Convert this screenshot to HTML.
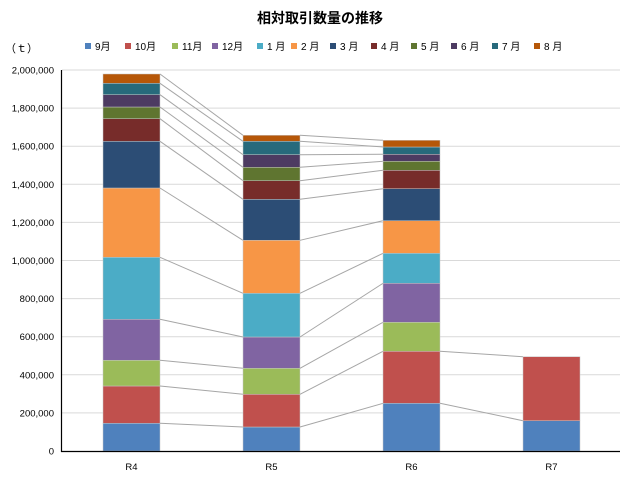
<!DOCTYPE html>
<html><head><meta charset="utf-8"><style>
html,body{margin:0;padding:0;background:#fff;}
svg{display:block;font-family:"Liberation Sans","Noto Sans CJK JP",sans-serif;}
</style></head><body>
<svg id="c" width="643" height="482" xmlns="http://www.w3.org/2000/svg">
<rect width="643" height="482" fill="#fff"/>
<text x="320" y="23" text-anchor="middle" font-size="14" font-weight="bold" fill="#000">相対取引数量の推移</text>
<text x="5" y="52" font-size="11" fill="#000">（ｔ）</text>
</svg>
<script>
var s=document.getElementById('c'),NS='http://www.w3.org/2000/svg';
function el(t,a,txt){var e=document.createElementNS(NS,t);for(var k in a)e.setAttribute(k,a[k]);if(txt!=null)e.textContent=txt;s.appendChild(e);return e;}
var cols=['#4f81bd','#c0504d','#9bbb59','#8064a2','#4bacc6','#f79646','#2c4d75','#772c2a','#5f7530','#4d3b62','#276a7c','#b65708'];
var names=['9月','10月','11月','12月','1月','2月','3月','4月','5月','6月','7月','8月'];
var lx=[85,125,172,212,257,291,330,371,411,451,492,534];
for(var i=0;i<12;i++){el('rect',{x:lx[i],y:43,width:6,height:6,fill:cols[i]});el('text',{x:lx[i]+10,y:50,'font-size':10,fill:'#000'},names[i].length==2&&i>3?names[i][0]+' '+names[i][1]:names[i]);}
// grid
for(var g=0;g<=10;g++){var y=451-g*38.1;if(g>0)el('line',{x1:62,x2:620,y1:y,y2:y,stroke:'#d9d9d9','stroke-width':1});
el('text',{x:54,y:y+3.5,'text-anchor':'end','font-size':9.5,fill:'#000'},g==0?'0':(g*200000).toLocaleString('en-US'));}
var bars=[[103,[451,423.3,386,360.3,319.3,257.3,188,141.3,118.7,107,94.7,83.3,74]],
[243,[451,427,394.3,368.3,337,293.3,240.3,199.3,180.7,167.3,154.7,141.3,135.3]],
[383,[451,403.3,351.3,322.3,283.3,253.3,220.7,188.7,170.3,161.3,154.3,147,140.3]],
[523,[451,420.7,356.7]]];
var W=57,lab=['R4','R5','R6','R7'];
bars.forEach(function(b,bi){var x=b[0],v=b[1];
for(var i=0;i<v.length-1;i++)el('rect',{x:x,y:v[i+1],width:W,height:v[i]-v[i+1],fill:cols[i],stroke:'#c8c8c8','stroke-width':0.5});
el('text',{x:x+W/2,y:470,'text-anchor':'middle','font-size':9.5,fill:'#000'},lab[bi]);
if(bi<3){var n=bars[bi+1][1];for(var i=1;i<n.length;i++)el('line',{x1:x+W,y1:v[i],x2:bars[bi+1][0],y2:n[i],stroke:'#a6a6a6','stroke-width':1});}
});
el('line',{x1:61.5,x2:61.5,y1:70,y2:452,stroke:'#000','stroke-width':1.2});
el('line',{x1:61,x2:620,y1:451.5,y2:451.5,stroke:'#000','stroke-width':1.2});
</script>
</body></html>
